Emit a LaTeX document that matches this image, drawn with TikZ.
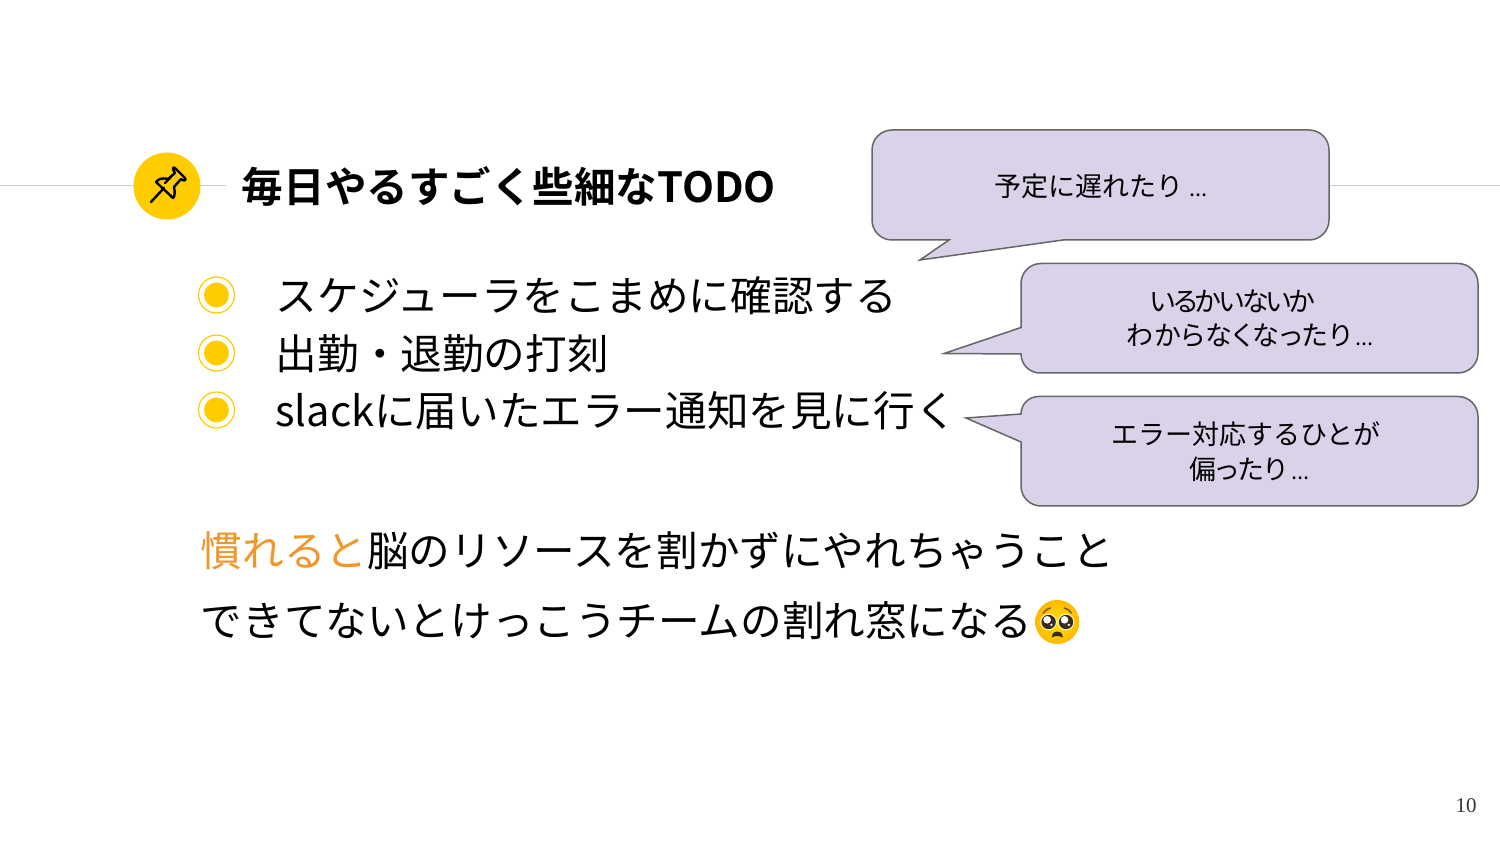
\documentclass[tikz,border=0pt]{standalone}
\usepackage{fontspec}
\setmainfont{Noto Sans CJK JP}[BoldFont={Noto Sans CJK JP Bold}]
\newfontfamily\paltfont{Noto Sans CJK JP}[RawFeature=+palt]
\newfontfamily\narrowfont{Noto Sans CJK JP}[RawFeature=+palt,LetterSpace=-9]
\newfontfamily\openfont{Noto Sans CJK JP}[RawFeature=+palt,LetterSpace=3.3]
\newfontfamily\numfont{Liberation Serif}
\definecolor{gold}{HTML}{FFCC00}
\definecolor{lilac}{HTML}{D9D2E9}
\definecolor{edge}{HTML}{666666}
\definecolor{rulec}{HTML}{CCCCCC}
\definecolor{warm}{HTML}{F1962A}
\definecolor{eyec}{HTML}{3B2A22}
\newcommand{\tinydots}{\kern1pt{\paltfont\fontsize{11pt}{12pt}\selectfont ...}}
\tikzset{
 body/.style={anchor=base west,inner sep=0pt,font=\fontsize{20.8pt}{24pt}\selectfont,text=black},
 bubble/.style={draw=edge,fill=lilac,line width=0.75pt},
 say/.style={anchor=base west,inner sep=0pt,font=\fontsize{13.5pt}{16pt}\selectfont,text=black},
 saytight/.style={anchor=base west,inner sep=0pt,font=\paltfont\fontsize{13.5pt}{16pt}\selectfont,text=black},
 saynarrow/.style={anchor=base west,inner sep=0pt,font=\narrowfont\fontsize{13.5pt}{16pt}\selectfont,text=black},
 sayopen/.style={anchor=base west,inner sep=0pt,font=\openfont\fontsize{13.5pt}{16pt}\selectfont,text=black},
 bullet/.style={circle,fill=gold,minimum size=12.5pt,inner sep=0pt},
 ring/.style={circle,draw=gold,line width=0.6pt,minimum size=18pt,inner sep=0pt},
}
\begin{document}
\begin{tikzpicture}[x=0.5pt,y=-0.5pt]
\useasboundingbox (0,0) rectangle (1500,844);
\draw[rulec,line width=0.7pt] (0,185.5) -- (226,185.5);
\draw[rulec,line width=0.7pt] (1330,185.5) -- (1500,185.5);
\node[circle,fill=gold,minimum size=33.5pt,inner sep=0pt] (pinbg) at (167,186) {};
% pin icon
\begin{scope}[shift={(167,186)},line width=1.2pt,draw=black,line join=round,line cap=round]
\draw (-16,16) -- (-3,2);
\draw (-11,-4) .. controls (-8,-8) and (-3,-8) .. (1,-7) -- (8,-13) .. controls (5,-17) and (6,-20) .. (8,-18) -- (18,-8) .. controls (20,-5) and (16,-5) .. (14,-7) -- (7,1) .. controls (8,6) and (8,10) .. (6,12) -- cycle;
\draw (-2,-3) -- (4,-9);
\end{scope}
\node[anchor=base west,inner sep=0pt,font=\fontsize{20.78pt}{24pt}\selectfont\bfseries] (title) at (241.5,202.5) {毎日やるすごく些細なTODO};
% bullets
\node[ring] (r1) at (216.5,295) {}; \node[bullet] (b1) at (216.5,295) {};
\node[ring] (r2) at (216.5,353) {}; \node[bullet] (b2) at (216.5,353) {};
\node[ring] (r3) at (216.5,410) {}; \node[bullet] (b3) at (216.5,410) {};
\node[body] (l1) at (275.5,312) {スケジューラをこまめに確認する};
\node[body] (l2) at (275.5,370) {出勤・退勤の打刻};
\node[body] (l3) at (275,427) {slackに届いたエラー通知を見に行く};
\node[body] (p1) at (200.5,567) {\textcolor{warm}{慣れると}脳のリソースを割かずにやれちゃうこと};
\node[body] (p2) at (200.5,636) {できてないとけっこうチームの割れ窓になる};
% callouts
\draw[bubble] (892,130) -- (1309,130) arc[start angle=-90,end angle=0,radius=20] -- (1329,220) arc[start angle=0,end angle=90,radius=20] -- (1063,240) -- (920,260) -- (949,240) -- (892,240) arc[start angle=90,end angle=180,radius=20] -- (872,150) arc[start angle=180,end angle=270,radius=20] -- cycle;
\draw[bubble] (1041,263.5) -- (1458,263.5) arc[start angle=-90,end angle=0,radius=20] -- (1478,353) arc[start angle=0,end angle=90,radius=20] -- (1040,373) arc[start angle=90,end angle=180,radius=19] -- (1021,354) -- (944,353.5) -- (1021,327.5) -- (1021,283.5) arc[start angle=180,end angle=270,radius=20] -- cycle;
\draw[bubble] (1038.5,396.5) -- (1458,396.5) arc[start angle=-90,end angle=0,radius=20] -- (1478,486) arc[start angle=0,end angle=90,radius=20] -- (1041,506) arc[start angle=90,end angle=180,radius=20] -- (1021,442) -- (966,418) -- (1021,414) arc[start angle=180,end angle=270,radius=17.5] -- cycle;
\node[say] (c1) at (994,197) {予定に遅れたり\kern2pt\tinydots};
\node[saynarrow] (c2a) at (1150,312) {いるかいないか};
\node[sayopen] (c2b) at (1126,346) {わからなくなったり\kern1pt\tinydots};
\node[say] (c3a) at (1111,445) {エラー対応するひとが};
\node[saytight] (c3b) at (1189,480) {偏ったり\kern1.5pt\tinydots};
% emoji
\begin{scope}[shift={(1057.3,622)}]
\shade[inner color=yellow!45!gold,middle color=gold,outer color=orange!55!yellow] (0,0) circle[radius=22];
\foreach \s in {-1,1}{
\fill[white!70!yellow] (\s*8.7,0) circle[radius=8.3];
\fill[eyec] (\s*8.7,0) circle[radius=7.2];
\fill[white] (\s*8.7-1.5,-2.2) circle[radius=3.8];
\fill[white] (\s*8.7+2.8,2.8) circle[radius=1.3];
\draw[brown!70!black,line width=0.8pt,line cap=round] (\s*14,-9) .. controls (\s*12,-12) and (\s*10,-13) .. (\s*7,-14);
}
\fill[eyec] (-5.5,15.5) .. controls (-5,10) and (-2,9.5) .. (0,9.5) .. controls (2,9.5) and (5,10) .. (5.5,15.5) .. controls (2,13.5) and (-2,13.5) .. (-5.5,15.5) -- cycle;
\end{scope}
\node[anchor=base,inner sep=0pt,font=\numfont\fontsize{10.5pt}{12pt}\selectfont,text=black!80] (pg) at (1466,812) {10};
\end{tikzpicture}
\end{document}
